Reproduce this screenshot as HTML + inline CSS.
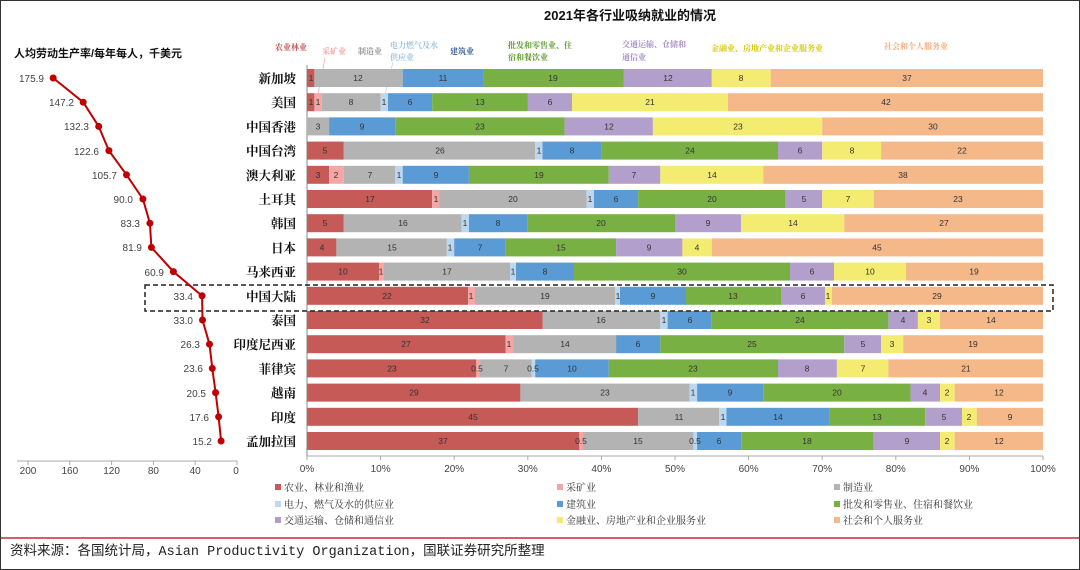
<!DOCTYPE html>
<html><head><meta charset="utf-8"><style>
html,body{margin:0;padding:0;background:#fff}
svg{display:block;font-family:"Liberation Sans","Noto Sans CJK SC",sans-serif}
.a{fill:#c55a57}.b{fill:#f4a6a6}.c{fill:#b3b3b3}.d{fill:#bdd7ee}.e{fill:#5b9bd5}.f{fill:#78b043}.g{fill:#b39fcb}.h{fill:#f3ec70}.i{fill:#f5b888}
.v{font-size:8.5px;fill:#333;text-anchor:middle}
.cn{font-family:"Liberation Serif","Noto Serif CJK SC",serif;font-weight:bold;font-size:12.5px;fill:#111;text-anchor:end}
.pv{font-size:10px;fill:#444;text-anchor:end}
.tk{font-size:10px;fill:#444;text-anchor:middle}
.lg{font-family:"Liberation Serif","Noto Serif CJK SC",serif;font-size:10px;fill:#333}
.tp{font-family:"Liberation Serif","Noto Serif CJK SC",serif;font-size:8px;font-weight:bold}
</style></head><body>
<svg width="1080" height="570" viewBox="0 0 1080 570">
<rect x="0.5" y="0.5" width="1079" height="569" fill="#fff" stroke="#333"/>
<text x="630" y="20" font-size="13" font-weight="bold" text-anchor="middle" fill="#111">2021年各行业吸纳就业的情况</text>
<text x="14" y="57" font-size="11" font-weight="bold" fill="#111">人均劳动生产率/每年每人，千美元</text>

<!-- top category labels -->
<text class="tp" x="275" y="50" fill="#c0504d">农业林业</text>
<text class="tp" x="322" y="54" fill="#f4a0a0">采矿业</text>
<text class="tp" x="358" y="54" fill="#999">制造业</text>
<text class="tp" x="390" y="48" fill="#9dc3e6">电力燃气及水</text>
<text class="tp" x="390" y="60" fill="#9dc3e6">供应业</text>
<text class="tp" x="450" y="54" fill="#2f5597">建筑业</text>
<text class="tp" x="508" y="48" fill="#5a9a2a">批发和零售业、住</text>
<text class="tp" x="508" y="60" fill="#5a9a2a">宿和餐饮业</text>
<text class="tp" x="622" y="47" fill="#a58cc4">交通运输、仓储和</text>
<text class="tp" x="622" y="60" fill="#a58cc4">通信业</text>
<text class="tp" x="711" y="51" fill="#d4c800">金融业、房地产业和企业服务业</text>
<text class="tp" x="884" y="49" fill="#f0a878">社会和个人服务业</text>
<line x1="325" y1="58" x2="318" y2="94" stroke="#f4a6a6" stroke-width="0.7"/>
<line x1="393" y1="62" x2="385" y2="94" stroke="#bdd7ee" stroke-width="0.7"/>

<!-- bar axis -->
<line x1="307" y1="65" x2="307" y2="456" stroke="#888"/>
<line x1="307" y1="456" x2="1043" y2="456" stroke="#aaa"/>
<g stroke="#aaa">
<line x1="307" y1="456" x2="307" y2="460"/><line x1="380.6" y1="456" x2="380.6" y2="460"/><line x1="454.2" y1="456" x2="454.2" y2="460"/><line x1="527.8" y1="456" x2="527.8" y2="460"/><line x1="601.4" y1="456" x2="601.4" y2="460"/><line x1="675" y1="456" x2="675" y2="460"/><line x1="748.6" y1="456" x2="748.6" y2="460"/><line x1="822.2" y1="456" x2="822.2" y2="460"/><line x1="895.8" y1="456" x2="895.8" y2="460"/><line x1="969.4" y1="456" x2="969.4" y2="460"/><line x1="1043" y1="456" x2="1043" y2="460"/>
</g>
<g class="tk">
<text class="tk" x="307" y="472">0%</text><text class="tk" x="380.6" y="472">10%</text><text class="tk" x="454.2" y="472">20%</text><text class="tk" x="527.8" y="472">30%</text><text class="tk" x="601.4" y="472">40%</text><text class="tk" x="675" y="472">50%</text><text class="tk" x="748.6" y="472">60%</text><text class="tk" x="822.2" y="472">70%</text><text class="tk" x="895.8" y="472">80%</text><text class="tk" x="969.4" y="472">90%</text><text class="tk" x="1043" y="472">100%</text>
</g>

<!-- rows -->
<g transform="translate(0,69)">
<rect class="a" x="307" width="7.4" height="18"/><rect class="c" x="314.4" width="88.3" height="18"/><rect class="e" x="402.7" width="80.9" height="18"/><rect class="f" x="483.6" width="139.9" height="18"/><rect class="g" x="623.5" width="88.3" height="18"/><rect class="h" x="711.8" width="58.9" height="18"/><rect class="i" x="770.7" width="272.3" height="18"/>
<text class="v" x="311" y="12">1</text><text class="v" x="358" y="12">12</text><text class="v" x="443" y="12">11</text><text class="v" x="553" y="12">19</text><text class="v" x="668" y="12">12</text><text class="v" x="741" y="12">8</text><text class="v" x="907" y="12">37</text>
<text class="cn" x="296" y="14">新加坡</text></g>

<g transform="translate(0,93.2)">
<rect class="a" x="307" width="7.4" height="18"/><rect class="b" x="314.4" width="7.3" height="18"/><rect class="c" x="321.7" width="58.9" height="18"/><rect class="d" x="380.6" width="7.4" height="18"/><rect class="e" x="388" width="44.2" height="18"/><rect class="f" x="432.2" width="95.7" height="18"/><rect class="g" x="527.9" width="44.1" height="18"/><rect class="h" x="572" width="156" height="18"/><rect class="i" x="728" width="315" height="18"/>
<text class="v" x="311" y="12">1</text><text class="v" x="318" y="12">1</text><text class="v" x="351" y="12">8</text><text class="v" x="384" y="12">1</text><text class="v" x="410" y="12">6</text><text class="v" x="480" y="12">13</text><text class="v" x="550" y="12">6</text><text class="v" x="650" y="12">21</text><text class="v" x="886" y="12">42</text>
<text class="cn" x="296" y="14">美国</text></g>

<g transform="translate(0,117.4)">
<rect class="c" x="307" width="22.1" height="18"/><rect class="e" x="329.1" width="66.2" height="18"/><rect class="f" x="395.3" width="169.3" height="18"/><rect class="g" x="564.6" width="88.3" height="18"/><rect class="h" x="652.9" width="169.3" height="18"/><rect class="i" x="822.2" width="220.8" height="18"/>
<text class="v" x="318" y="12">3</text><text class="v" x="362" y="12">9</text><text class="v" x="480" y="12">23</text><text class="v" x="609" y="12">12</text><text class="v" x="738" y="12">23</text><text class="v" x="933" y="12">30</text>
<text class="cn" x="296" y="14">中国香港</text></g>

<g transform="translate(0,141.6)">
<rect class="a" x="307" width="36.8" height="18"/><rect class="c" x="343.8" width="191.4" height="18"/><rect class="d" x="535.2" width="7.3" height="18"/><rect class="e" x="542.5" width="58.9" height="18"/><rect class="f" x="601.4" width="176.6" height="18"/><rect class="g" x="778" width="44.2" height="18"/><rect class="h" x="822.2" width="58.9" height="18"/><rect class="i" x="881.1" width="161.9" height="18"/>
<text class="v" x="325" y="12">5</text><text class="v" x="440" y="12">26</text><text class="v" x="539" y="12">1</text><text class="v" x="572" y="12">8</text><text class="v" x="690" y="12">24</text><text class="v" x="800" y="12">6</text><text class="v" x="852" y="12">8</text><text class="v" x="962" y="12">22</text>
<text class="cn" x="296" y="14">中国台湾</text></g>

<g transform="translate(0,165.8)">
<rect class="a" x="307" width="22.1" height="18"/><rect class="b" x="329.1" width="14.7" height="18"/><rect class="c" x="343.8" width="51.5" height="18"/><rect class="d" x="395.3" width="7.4" height="18"/><rect class="e" x="402.7" width="66.2" height="18"/><rect class="f" x="468.9" width="139.9" height="18"/><rect class="g" x="608.8" width="51.5" height="18"/><rect class="h" x="660.3" width="103" height="18"/><rect class="i" x="763.3" width="279.7" height="18"/>
<text class="v" x="318" y="12">3</text><text class="v" x="336" y="12">2</text><text class="v" x="370" y="12">7</text><text class="v" x="399" y="12">1</text><text class="v" x="436" y="12">9</text><text class="v" x="539" y="12">19</text><text class="v" x="634" y="12">7</text><text class="v" x="712" y="12">14</text><text class="v" x="903" y="12">38</text>
<text class="cn" x="296" y="14">澳大利亚</text></g>

<g transform="translate(0,190)">
<rect class="a" x="307" width="125.1" height="18"/><rect class="b" x="432.1" width="7.4" height="18"/><rect class="c" x="439.5" width="147.2" height="18"/><rect class="d" x="586.7" width="7.3" height="18"/><rect class="e" x="594" width="44.2" height="18"/><rect class="f" x="638.2" width="147.2" height="18"/><rect class="g" x="785.4" width="36.8" height="18"/><rect class="h" x="822.2" width="51.5" height="18"/><rect class="i" x="873.7" width="169.3" height="18"/>
<text class="v" x="370" y="12">17</text><text class="v" x="436" y="12">1</text><text class="v" x="513" y="12">20</text><text class="v" x="590" y="12">1</text><text class="v" x="616" y="12">6</text><text class="v" x="712" y="12">20</text><text class="v" x="804" y="12">5</text><text class="v" x="848" y="12">7</text><text class="v" x="958" y="12">23</text>
<text class="cn" x="296" y="14">土耳其</text></g>

<g transform="translate(0,214.2)">
<rect class="a" x="307" width="36.8" height="18"/><rect class="c" x="343.8" width="117.8" height="18"/><rect class="d" x="461.6" width="7.3" height="18"/><rect class="e" x="468.9" width="58.9" height="18"/><rect class="f" x="527.8" width="147.2" height="18"/><rect class="g" x="675" width="66.2" height="18"/><rect class="h" x="741.2" width="103.1" height="18"/><rect class="i" x="844.3" width="198.7" height="18"/>
<text class="v" x="325" y="12">5</text><text class="v" x="403" y="12">16</text><text class="v" x="465" y="12">1</text><text class="v" x="498" y="12">8</text><text class="v" x="601" y="12">20</text><text class="v" x="708" y="12">9</text><text class="v" x="793" y="12">14</text><text class="v" x="944" y="12">27</text>
<text class="cn" x="296" y="14">韩国</text></g>

<g transform="translate(0,238.4)">
<rect class="a" x="307" width="29.4" height="18"/><rect class="c" x="336.4" width="110.4" height="18"/><rect class="d" x="446.8" width="7.4" height="18"/><rect class="e" x="454.2" width="51.5" height="18"/><rect class="f" x="505.7" width="110.4" height="18"/><rect class="g" x="616.1" width="66.3" height="18"/><rect class="h" x="682.4" width="29.4" height="18"/><rect class="i" x="711.8" width="331.2" height="18"/>
<text class="v" x="322" y="12">4</text><text class="v" x="392" y="12">15</text><text class="v" x="450" y="12">1</text><text class="v" x="480" y="12">7</text><text class="v" x="561" y="12">15</text><text class="v" x="649" y="12">9</text><text class="v" x="697" y="12">4</text><text class="v" x="877" y="12">45</text>
<text class="cn" x="296" y="14">日本</text></g>

<g transform="translate(0,262.6)">
<rect class="a" x="307" width="72" height="18"/><rect class="b" x="379" width="5" height="18"/><rect class="c" x="384" width="126" height="18"/><rect class="d" x="510" width="6" height="18"/><rect class="e" x="516" width="58" height="18"/><rect class="f" x="574" width="216" height="18"/><rect class="g" x="790" width="44" height="18"/><rect class="h" x="834" width="72" height="18"/><rect class="i" x="906" width="137" height="18"/>
<text class="v" x="343" y="12">10</text><text class="v" x="381" y="12">1</text><text class="v" x="447" y="12">17</text><text class="v" x="513" y="12">1</text><text class="v" x="545" y="12">8</text><text class="v" x="682" y="12">30</text><text class="v" x="812" y="12">6</text><text class="v" x="870" y="12">10</text><text class="v" x="974" y="12">19</text>
<text class="cn" x="296" y="14">马来西亚</text></g>

<g transform="translate(0,286.8)">
<rect class="a" x="307" width="161" height="18"/><rect class="b" x="468" width="7" height="18"/><rect class="c" x="475" width="140" height="18"/><rect class="d" x="615" width="5" height="18"/><rect class="e" x="620" width="66" height="18"/><rect class="f" x="686" width="95" height="18"/><rect class="g" x="781" width="44" height="18"/><rect class="h" x="825" width="7" height="18"/><rect class="i" x="832" width="211" height="18"/>
<text class="v" x="387" y="12">22</text><text class="v" x="471" y="12">1</text><text class="v" x="545" y="12">19</text><text class="v" x="618" y="12">1</text><text class="v" x="653" y="12">9</text><text class="v" x="733" y="12">13</text><text class="v" x="803" y="12">6</text><text class="v" x="828" y="12">1</text><text class="v" x="937" y="12">29</text>
<text class="cn" x="296" y="14">中国大陆</text></g>

<g transform="translate(0,311)">
<rect class="a" x="307" width="235.5" height="18"/><rect class="c" x="542.5" width="117.8" height="18"/><rect class="d" x="660.3" width="7.3" height="18"/><rect class="e" x="667.6" width="44.2" height="18"/><rect class="f" x="711.8" width="176.6" height="18"/><rect class="g" x="888.4" width="29.5" height="18"/><rect class="h" x="917.9" width="22.1" height="18"/><rect class="i" x="940" width="103" height="18"/>
<text class="v" x="425" y="12">32</text><text class="v" x="601" y="12">16</text><text class="v" x="664" y="12">1</text><text class="v" x="690" y="12">6</text><text class="v" x="800" y="12">24</text><text class="v" x="903" y="12">4</text><text class="v" x="929" y="12">3</text><text class="v" x="991" y="12">14</text>
<text class="cn" x="296" y="14">泰国</text></g>

<g transform="translate(0,335.2)">
<rect class="a" x="307" width="198.7" height="18"/><rect class="b" x="505.7" width="7.4" height="18"/><rect class="c" x="513.1" width="103" height="18"/><rect class="e" x="616.1" width="44.2" height="18"/><rect class="f" x="660.3" width="184" height="18"/><rect class="g" x="844.3" width="36.8" height="18"/><rect class="h" x="881.1" width="22.1" height="18"/><rect class="i" x="903.2" width="139.8" height="18"/>
<text class="v" x="406" y="12">27</text><text class="v" x="509" y="12">1</text><text class="v" x="565" y="12">14</text><text class="v" x="638" y="12">6</text><text class="v" x="752" y="12">25</text><text class="v" x="863" y="12">5</text><text class="v" x="892" y="12">3</text><text class="v" x="973" y="12">19</text>
<text class="cn" x="296" y="14">印度尼西亚</text></g>

<g transform="translate(0,359.4)">
<rect class="a" x="307" width="169.3" height="18"/><rect class="b" x="476.3" width="3.7" height="18"/><rect class="c" x="480" width="51.5" height="18"/><rect class="d" x="531.5" width="3.7" height="18"/><rect class="e" x="535.2" width="73.6" height="18"/><rect class="f" x="608.8" width="169.2" height="18"/><rect class="g" x="778" width="58.9" height="18"/><rect class="h" x="836.9" width="51.5" height="18"/><rect class="i" x="888.4" width="154.6" height="18"/>
<text class="v" x="392" y="12">23</text><text class="v" x="477" y="12">0.5</text><text class="v" x="506" y="12">7</text><text class="v" x="533" y="12">0.5</text><text class="v" x="572" y="12">10</text><text class="v" x="693" y="12">23</text><text class="v" x="807" y="12">8</text><text class="v" x="863" y="12">7</text><text class="v" x="966" y="12">21</text>
<text class="cn" x="296" y="14">菲律宾</text></g>

<g transform="translate(0,383.6)">
<rect class="a" x="307" width="213.4" height="18"/><rect class="c" x="520.4" width="169.3" height="18"/><rect class="d" x="689.7" width="7.4" height="18"/><rect class="e" x="697.1" width="66.2" height="18"/><rect class="f" x="763.3" width="147.2" height="18"/><rect class="g" x="910.5" width="29.5" height="18"/><rect class="h" x="940" width="14.7" height="18"/><rect class="i" x="954.7" width="88.3" height="18"/>
<text class="v" x="414" y="12">29</text><text class="v" x="605" y="12">23</text><text class="v" x="693" y="12">1</text><text class="v" x="730" y="12">9</text><text class="v" x="837" y="12">20</text><text class="v" x="925" y="12">4</text><text class="v" x="947" y="12">2</text><text class="v" x="999" y="12">12</text>
<text class="cn" x="296" y="14">越南</text></g>

<g transform="translate(0,407.8)">
<rect class="a" x="307" width="331.2" height="18"/><rect class="c" x="638.2" width="81" height="18"/><rect class="d" x="719.2" width="7.3" height="18"/><rect class="e" x="726.5" width="103.1" height="18"/><rect class="f" x="829.6" width="95.6" height="18"/><rect class="g" x="925.2" width="36.8" height="18"/><rect class="h" x="962" width="14.8" height="18"/><rect class="i" x="976.8" width="66.2" height="18"/>
<text class="v" x="473" y="12">45</text><text class="v" x="679" y="12">11</text><text class="v" x="723" y="12">1</text><text class="v" x="778" y="12">14</text><text class="v" x="877" y="12">13</text><text class="v" x="944" y="12">5</text><text class="v" x="969" y="12">2</text><text class="v" x="1010" y="12">9</text>
<text class="cn" x="296" y="14">印度</text></g>

<g transform="translate(0,432)">
<rect class="a" x="307" width="272.3" height="18"/><rect class="b" x="579.3" width="3.7" height="18"/><rect class="c" x="583" width="110.4" height="18"/><rect class="d" x="693.4" width="3.7" height="18"/><rect class="e" x="697.1" width="44.1" height="18"/><rect class="f" x="741.2" width="132.5" height="18"/><rect class="g" x="873.7" width="66.3" height="18"/><rect class="h" x="940" width="14.7" height="18"/><rect class="i" x="954.7" width="88.3" height="18"/>
<text class="v" x="443" y="12">37</text><text class="v" x="581" y="12">0.5</text><text class="v" x="638" y="12">15</text><text class="v" x="695" y="12">0.5</text><text class="v" x="719" y="12">6</text><text class="v" x="807" y="12">18</text><text class="v" x="907" y="12">9</text><text class="v" x="947" y="12">2</text><text class="v" x="999" y="12">12</text>
<text class="cn" x="296" y="14">孟加拉国</text></g>

<!-- dashed highlight -->
<rect x="145" y="285" width="908" height="26" fill="none" stroke="#222" stroke-width="1.5" stroke-dasharray="5,3"/>

<!-- left line chart -->
<polyline fill="none" stroke="#c00000" stroke-width="2" points="53.2,78 83.2,102.2 98.7,126.4 108.9,150.6 126.5,174.8 142.9,199 149.9,223.2 151.4,247.4 173.4,271.6 202.1,295.8 202.5,320 209.5,344.2 212.3,368.4 215.6,392.6 218.6,416.8 221.1,441"/>
<g fill="#c00000">
<circle cx="53.2" cy="78" r="3.5"/><circle cx="83.2" cy="102.2" r="3.5"/><circle cx="98.7" cy="126.4" r="3.5"/><circle cx="108.9" cy="150.6" r="3.5"/><circle cx="126.5" cy="174.8" r="3.5"/><circle cx="142.9" cy="199" r="3.5"/><circle cx="149.9" cy="223.2" r="3.5"/><circle cx="151.4" cy="247.4" r="3.5"/><circle cx="173.4" cy="271.6" r="3.5"/><circle cx="202.1" cy="295.8" r="3.5"/><circle cx="202.5" cy="320" r="3.5"/><circle cx="209.5" cy="344.2" r="3.5"/><circle cx="212.3" cy="368.4" r="3.5"/><circle cx="215.6" cy="392.6" r="3.5"/><circle cx="218.6" cy="416.8" r="3.5"/><circle cx="221.1" cy="441" r="3.5"/>
</g>
<g class="pv">
<text class="pv" x="44" y="82">175.9</text><text class="pv" x="74" y="106">147.2</text><text class="pv" x="89" y="130">132.3</text><text class="pv" x="99" y="155">122.6</text><text class="pv" x="117" y="179">105.7</text><text class="pv" x="133" y="203">90.0</text><text class="pv" x="140" y="227">83.3</text><text class="pv" x="142" y="251">81.9</text><text class="pv" x="164" y="276">60.9</text><text class="pv" x="193" y="300">33.4</text><text class="pv" x="193" y="324">33.0</text><text class="pv" x="200" y="348">26.3</text><text class="pv" x="203" y="372">23.6</text><text class="pv" x="206" y="397">20.5</text><text class="pv" x="209" y="421">17.6</text><text class="pv" x="212" y="445">15.2</text>
</g>
<line x1="17" y1="461" x2="237" y2="461" stroke="#aaa"/>
<g stroke="#aaa"><line x1="237" y1="461" x2="237" y2="465"/><line x1="195.2" y1="461" x2="195.2" y2="465"/><line x1="153.4" y1="461" x2="153.4" y2="465"/><line x1="111.6" y1="461" x2="111.6" y2="465"/><line x1="69.8" y1="461" x2="69.8" y2="465"/><line x1="28" y1="461" x2="28" y2="465"/></g>
<text class="tk" x="236" y="474">0</text><text class="tk" x="195.2" y="474">40</text><text class="tk" x="153.4" y="474">80</text><text class="tk" x="111.6" y="474">120</text><text class="tk" x="69.8" y="474">160</text><text class="tk" x="28" y="474">200</text>

<!-- legend -->
<rect class="a" x="275" y="484" width="6" height="6"/><text class="lg" x="284" y="491">农业、林业和渔业</text>
<rect class="b" x="557" y="484" width="6" height="6"/><text class="lg" x="566" y="491">采矿业</text>
<rect class="c" x="834" y="484" width="6" height="6"/><text class="lg" x="843" y="491">制造业</text>
<rect class="d" x="275" y="501" width="6" height="6"/><text class="lg" x="284" y="508">电力、燃气及水的供应业</text>
<rect class="e" x="557" y="501" width="6" height="6"/><text class="lg" x="566" y="508">建筑业</text>
<rect class="f" x="834" y="501" width="6" height="6"/><text class="lg" x="843" y="508">批发和零售业、住宿和餐饮业</text>
<rect class="g" x="275" y="517" width="6" height="6"/><text class="lg" x="284" y="524">交通运输、仓储和通信业</text>
<rect class="h" x="557" y="517" width="6" height="6"/><text class="lg" x="566" y="524">金融业、房地产业和企业服务业</text>
<rect class="i" x="834" y="517" width="6" height="6"/><text class="lg" x="843" y="524">社会和个人服务业</text>

<line x1="1" y1="538" x2="1079" y2="538" stroke="#d06070" stroke-width="2"/>
<text x="10" y="555" font-size="13.5" fill="#222" style="font-family:'Liberation Mono','Noto Sans CJK SC',monospace">资料来源：各国统计局，Asian Productivity Organization，国联证券研究所整理</text>
</svg>
</body></html>
